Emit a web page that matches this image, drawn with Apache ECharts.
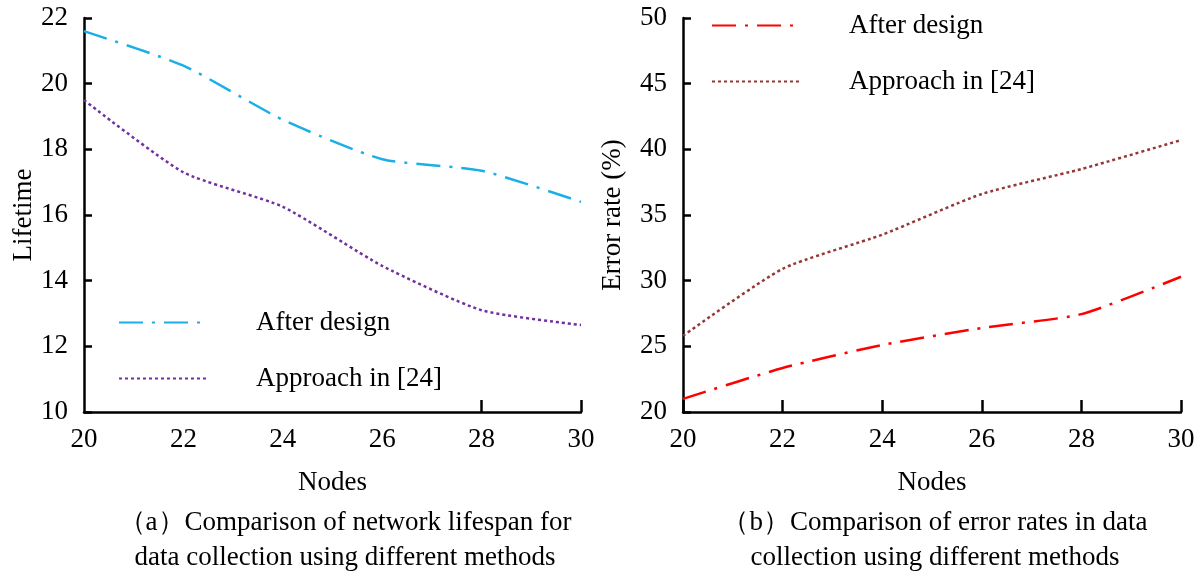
<!DOCTYPE html>
<html><head><meta charset="utf-8">
<script src="https://cdn.jsdelivr.net/npm/echarts@6/dist/echarts.min.js"></script>
<style>html,body{margin:0;padding:0;background:#fff}#c{width:1200px;height:576px}</style>
</head><body><div id="c"></div>
<script>
const nodes = ['20','22','24','26','28','30'];
const lifeAfter = [21.6, 20.55, 18.9, 17.7, 17.35, 16.4];
const lifeApproach = [19.5, 17.3, 16.25, 14.45, 13.1, 12.65];
const errAfter = [21.0, 23.35, 25.1, 26.4, 27.45, 30.3];
const errApproach = [25.8, 30.9, 33.5, 36.6, 38.5, 40.7];
const lifeTicks = [10, 22, 2];
const errTicks = [20, 50, 5];
const seriesNames = ['After design', 'Approach in [24]'];
const captionA = ['（a）Comparison of network lifespan for', 'data collection using different methods'];
const captionB = ['（b）Comparison of error rates in data', 'collection using different methods'];

const FONT = '"Liberation Serif", "DejaVu Serif", serif';
const FS = 27;
const chart = echarts.init(document.getElementById('c'));
const axisLine = {lineStyle:{color:'#000', width:2.5}};
function xAxis(gi, tickFn){
  return {type:'category', gridIndex:gi, data:nodes, boundaryGap:false,
    name:'Nodes', nameLocation:'middle', nameGap:57,
    nameTextStyle:{fontFamily:FONT, fontSize:FS, color:'#000'},
    axisLine, axisTick:{inside:true, length:12, lineStyle:{color:'#000', width:2.5}, interval:tickFn, alignWithLabel:true},
    axisLabel:{fontFamily:FONT, fontSize:FS, color:'#000', margin:14, interval:0},
    splitLine:{show:false}};
}
function yAxis(gi, t, name, gap){
  return {type:'value', gridIndex:gi, min:t[0], max:t[1], interval:t[2],
    name, nameLocation:'middle', nameGap:gap,
    nameTextStyle:{fontFamily:FONT, fontSize:FS, color:'#000'},
    axisLine:{show:true, lineStyle:{color:'#000', width:2.5}},
    axisTick:{show:true, inside:true, length:8, lineStyle:{color:'#000', width:2.5}},
    axisLabel:{fontFamily:FONT, fontSize:FS, color:'#000', margin:16},
    splitLine:{show:false}};
}
const dashDot = [24, 9, 3, 9];
const dotted = [3, 3];
const legendCommon = {orient:'vertical', itemWidth:88, itemHeight:10, itemGap:29,
  itemStyle:{opacity:0},
  textStyle:{fontFamily:FONT, fontSize:FS, color:'#000', padding:[0,0,0,44]}};
chart.setOption({
  animation:false,
  grid:[
    {left:84, right:619, top:18, bottom:164},
    {left:683, right:19, top:18, bottom:164}
  ],
  xAxis:[xAxis(0, (i)=> i>=4), xAxis(1, ()=>true)],
  yAxis:[yAxis(0, lifeTicks, 'Lifetime', 40), yAxis(1, errTicks, 'Error rate (%)', 57)],
  legend:[
    Object.assign({left:113, top:304, data:['L1','L2'], formatter:(n)=> n==='L1'?seriesNames[0]:seriesNames[1]}, legendCommon),
    Object.assign({left:706, top:7, data:['R1','R2'], formatter:(n)=> n==='R1'?seriesNames[0]:seriesNames[1]}, legendCommon)
  ],
  series:[
    {name:'L1', type:'line', xAxisIndex:0, yAxisIndex:0, data:lifeAfter, showSymbol:false, symbol:'none', smooth:0.2,
     lineStyle:{color:'#1AAFE6', width:2.5, type:dashDot}, itemStyle:{color:'#1AAFE6'}},
    {name:'L2', type:'line', xAxisIndex:0, yAxisIndex:0, data:lifeApproach, showSymbol:false, symbol:'none', smooth:0.2,
     lineStyle:{color:'#7030A0', width:2.5, type:dotted}, itemStyle:{color:'#7030A0'}},
    {name:'R1', type:'line', xAxisIndex:1, yAxisIndex:1, data:errAfter, showSymbol:false, symbol:'none', smooth:0.2,
     lineStyle:{color:'#FF0000', width:2.5, type:dashDot}, itemStyle:{color:'#FF0000'}},
    {name:'R2', type:'line', xAxisIndex:1, yAxisIndex:1, data:errApproach, showSymbol:false, symbol:'none', smooth:0.2,
     lineStyle:{color:'#953735', width:2.5, type:dotted}, itemStyle:{color:'#953735'}}
  ],
  graphic:[
    {type:'text', x:345, y:523, style:{text:captionA[0], font:FS+'px '+FONT, fill:'#000', align:'center', verticalAlign:'middle'}},
    {type:'text', x:345, y:558, style:{text:captionA[1], font:FS+'px '+FONT, fill:'#000', align:'center', verticalAlign:'middle'}},
    {type:'text', x:935, y:523, style:{text:captionB[0], font:FS+'px '+FONT, fill:'#000', align:'center', verticalAlign:'middle'}},
    {type:'text', x:935, y:558, style:{text:captionB[1], font:FS+'px '+FONT, fill:'#000', align:'center', verticalAlign:'middle'}}
  ]
});
</script></body></html>
